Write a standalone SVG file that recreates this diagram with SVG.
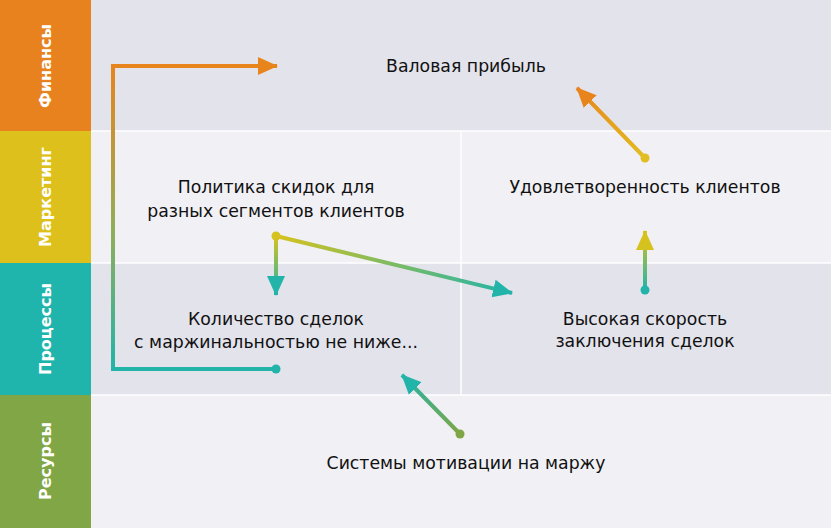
<svg xmlns="http://www.w3.org/2000/svg" width="831" height="528" viewBox="0 0 831 528">
<style>
.band{font-family:"DejaVu Sans","Open Sans",sans-serif;font-weight:bold;font-size:16px;fill:#fff;text-anchor:middle}
.lbl{font-family:"DejaVu Sans",Verdana,sans-serif;font-size:17.3px;fill:#111;text-anchor:middle}
.con{fill:none;stroke-width:4;stroke-linecap:butt;stroke-linejoin:miter}
</style>
<defs>
<marker id="hOr" markerUnits="userSpaceOnUse" viewBox="0 0 20 20" markerWidth="20" markerHeight="20" refX="19" refY="10" orient="auto"><path d="M0,1 L20,10 L0,19 Z" fill="#E8841C"/></marker>
<marker id="hTe" markerUnits="userSpaceOnUse" viewBox="0 0 20 20" markerWidth="20" markerHeight="20" refX="19" refY="10" orient="auto"><path d="M0,1 L20,10 L0,19 Z" fill="#22B4A8"/></marker>
<marker id="hYe" markerUnits="userSpaceOnUse" viewBox="0 0 20 20" markerWidth="20" markerHeight="20" refX="19" refY="10" orient="auto"><path d="M0,1 L20,10 L0,19 Z" fill="#D6C21E"/></marker>
<linearGradient id="gLong" gradientUnits="userSpaceOnUse" x1="0" y1="369" x2="0" y2="66"><stop offset="0" stop-color="#22B4A8"/><stop offset="0.45" stop-color="#8FAE5A"/><stop offset="1" stop-color="#E8841C"/></linearGradient>
<linearGradient id="gUp" gradientUnits="userSpaceOnUse" x1="645" y1="158" x2="577" y2="88"><stop offset="0" stop-color="#E2BE20"/><stop offset="1" stop-color="#E8841C"/></linearGradient>
<linearGradient id="gSpeed" gradientUnits="userSpaceOnUse" x1="0" y1="290" x2="0" y2="232"><stop offset="0" stop-color="#22B4A8"/><stop offset="1" stop-color="#D6C21E"/></linearGradient>
<linearGradient id="gDown" gradientUnits="userSpaceOnUse" x1="0" y1="236" x2="0" y2="294"><stop offset="0" stop-color="#D6C21E"/><stop offset="1" stop-color="#22B4A8"/></linearGradient>
<linearGradient id="gDiag" gradientUnits="userSpaceOnUse" x1="276" y1="236" x2="511" y2="293"><stop offset="0" stop-color="#D6C21E"/><stop offset="1" stop-color="#22B4A8"/></linearGradient>
<linearGradient id="gRes" gradientUnits="userSpaceOnUse" x1="460" y1="434" x2="402" y2="375"><stop offset="0" stop-color="#7FA646"/><stop offset="1" stop-color="#22B4A8"/></linearGradient>
</defs>

<!-- backgrounds -->
<rect x="91" y="0" width="740" height="131" fill="#E3E3EC"/>
<rect x="91" y="131" width="740" height="132" fill="#F0F0F5"/>
<rect x="91" y="263" width="740" height="132" fill="#E3E3EC"/>
<rect x="91" y="395" width="740" height="133" fill="#F0F0F5"/>
<g stroke="#ffffff" stroke-width="1.5">
<line x1="91" y1="131" x2="831" y2="131"/>
<line x1="91" y1="263" x2="831" y2="263"/>
<line x1="91" y1="395" x2="831" y2="395"/>
<line x1="461" y1="131" x2="461" y2="395"/>
</g>

<g id="band-finance"><rect x="0" y="0" width="91" height="131" fill="#E8821E"/><text class="band" transform="translate(51,66) rotate(-90)">Финансы</text></g>
<g id="band-marketing"><rect x="0" y="131" width="91" height="132" fill="#DEC01C"/><text class="band" transform="translate(51,197) rotate(-90)">Маркетинг</text></g>
<g id="band-processes"><rect x="0" y="263" width="91" height="132" fill="#1FB5AD"/><text class="band" transform="translate(51,329) rotate(-90)">Процессы</text></g>
<g id="band-resources"><rect x="0" y="395" width="91" height="133" fill="#80A645"/><text class="band" transform="translate(51,461) rotate(-90)">Ресурсы</text></g>

<g id="connectors">
<path class="con" stroke="url(#gLong)" d="M276,369 H113 V66 H277" marker-end="url(#hOr)"/>
<circle cx="276" cy="369" r="4.5" fill="#22B4A8"/>
<path class="con" stroke="url(#gUp)" d="M645,158 L577,88" marker-end="url(#hOr)"/>
<circle cx="645" cy="158" r="4.5" fill="#E2BE20"/>
<path class="con" stroke="url(#gSpeed)" d="M645,290 V231" marker-end="url(#hYe)"/>
<circle cx="645" cy="290" r="4.5" fill="#22B4A8"/>
<path class="con" stroke="url(#gDown)" d="M276,236 V295" marker-end="url(#hTe)"/>
<path class="con" stroke="url(#gDiag)" d="M276,236 L512,293" marker-end="url(#hTe)"/>
<circle cx="276" cy="236" r="4.5" fill="#D6C21E"/>
<path class="con" stroke="url(#gRes)" d="M460,434 L402,375" marker-end="url(#hTe)"/>
<circle cx="460" cy="434" r="4.5" fill="#7FA646"/>
</g>

<g id="node-gross"><text class="lbl" x="466" y="72">Валовая прибыль</text></g>
<g id="node-discount"><text class="lbl" x="276" y="193">Политика скидок для</text><text class="lbl" x="276" y="217">разных сегментов клиентов</text></g>
<g id="node-satisfaction"><text class="lbl" x="645" y="193">Удовлетворенность клиентов</text></g>
<g id="node-deals"><text class="lbl" x="276" y="325">Количество сделок</text><text class="lbl" x="276" y="348">с маржинальностью не ниже...</text></g>
<g id="node-speed"><text class="lbl" x="645" y="325">Высокая скорость</text><text class="lbl" x="645" y="347">заключения сделок</text></g>
<g id="node-motivation"><text class="lbl" x="466" y="469">Системы мотивации на маржу</text></g>
</svg>
